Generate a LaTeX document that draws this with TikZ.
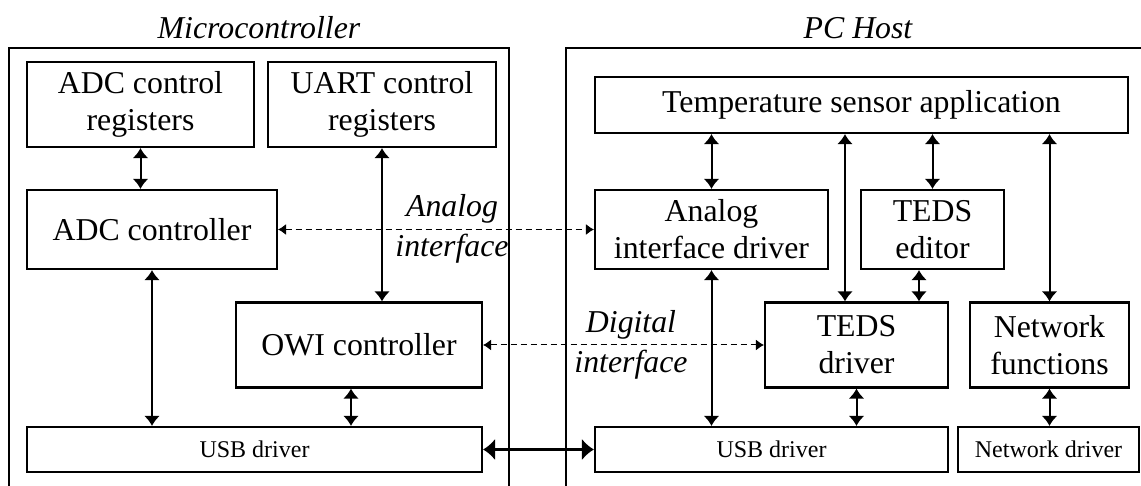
\documentclass[tikz,border=0pt]{standalone}
\usepackage{fontspec}
\setmainfont{Liberation Serif}
\usetikzlibrary{arrows.meta,calc}
\tikzset{>={Latex[length=5pt,width=8pt]}}
\tikzstyle{block}=[rectangle,draw=black,line width=1.1pt,inner sep=0pt,align=center,font=\fontsize{15.9}{18.5}\selectfont]
\tikzstyle{smallblock}=[block,font=\fontsize{12}{14}\selectfont]
\tikzstyle{itlabel}=[align=center,inner sep=0pt,font=\fontsize{15.9}{20}\selectfont\itshape]
\tikzstyle{frame}=[line width=1.1pt]
\tikzstyle{link}=[<->,line width=1pt]
\tikzstyle{dashlink}=[{Latex[length=4pt,width=5.5pt]}-{Latex[length=4pt,width=5.5pt]},dash pattern=on 3pt off 2pt,line width=0.5pt]
\tikzstyle{buslink}=[{Latex[length=6pt,width=11pt]}-{Latex[length=6pt,width=11pt]},line width=1.5pt]

\begin{document}
\begin{tikzpicture}[x=0.5pt,y=-0.5pt]
	\def \u {0.5pt};
	\useasboundingbox (0,0) rectangle (1141,486);

	\draw[frame] (9,490) |- (509,48) -- (509,490);
	\draw[frame] (566,490) |- (1145,48);
	\node[itlabel] (mctitle) at (259,28) {Microcontroller};
	\node[itlabel] (pctitle) at (858,28) {PC Host};

	\node[block, minimum width=227*\u, minimum height=85*\u] (adcreg) at (140.5,104.5) {ADC control\\registers};
	\node[block, minimum width=228*\u, minimum height=85*\u] (uartreg) at (382,104.5) {UART control\\registers};
	\node[block, minimum width=250*\u, minimum height=79*\u] (adcctrl) at (152,229.5) {ADC controller};
	\node[block, minimum width=246*\u, minimum height=85*\u] (owi) at (359,345) {OWI controller};
	\node[smallblock, minimum width=455*\u, minimum height=45*\u] (usbl) at (254.5,449.5) {USB driver};

	\node[block, minimum width=533*\u, minimum height=56*\u] (temp) at (861.5,105) {Temperature sensor application};
	\node[block, minimum width=233*\u, minimum height=79*\u] (analog) at (711.5,229.5) {Analog\\interface driver};
	\node[block, minimum width=143*\u, minimum height=79*\u] (tedsed) at (932.5,229.5) {TEDS\\editor};
	\node[block, minimum width=183*\u, minimum height=85*\u] (tedsdrv) at (856.5,345) {TEDS\\driver};
	\node[block, minimum width=159*\u, minimum height=85*\u] (netfun) at (1049.5,345) {Network\\functions};
	\node[smallblock, minimum width=353*\u, minimum height=45*\u] (usbr) at (771.5,449.5) {USB driver};
	\node[smallblock, minimum width=181*\u, minimum height=45*\u] (netdrv) at (1048.5,449.5) {Network driver};

	\coordinate (owiout) at ([xshift=-8*\u]owi.south);
	\coordinate (edout) at ([xshift=-13.5*\u]tedsed.south);
	\coordinate (drvin) at ([xshift=-11.5*\u]tedsdrv.north);

	\draw[link] (adcreg.south) -- (adcreg.south |- adcctrl.north);
	\draw[link] (adcctrl.south) -- (adcctrl.south |- usbl.north);
	\draw[link] (uartreg.south) -- (uartreg.south |- owi.north);
	\draw[link] (owiout) -- (owiout |- usbl.north);

	\draw[link] (analog.north |- temp.south) -- (analog.north);
	\draw[link] (analog.south) -- (analog.south |- usbr.north);
	\draw[link] (tedsed.north |- temp.south) -- (tedsed.north);
	\draw[link] (edout) -- (edout |- tedsdrv.north);
	\draw[link] (drvin |- temp.south) -- (drvin);
	\draw[link] (tedsdrv.south) -- (tedsdrv.south |- usbr.north);
	\draw[link] (netfun.north |- temp.south) -- (netfun.north);
	\draw[link] (netfun.south) -- (netfun.south |- netdrv.north);

	\draw[dashlink] (adcctrl.east) -- (analog.west);
	\draw[dashlink] (owi.east) -- (tedsdrv.west);
	\draw[buslink] (usbl.east) -- (usbr.west);

	\node[itlabel] (anlabel) at (452,229) {Analog\\interface};
	\node[itlabel] (diglabel) at (631,345) {Digital\\interface};
\end{tikzpicture}
\end{document}
